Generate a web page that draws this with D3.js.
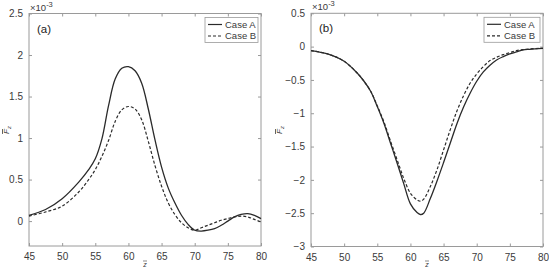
<!DOCTYPE html>
<html><head><meta charset="utf-8">
<script src="https://cdn.jsdelivr.net/npm/d3@7"></script>
<style>body{margin:0;background:#fff;}text{font-family:"Liberation Sans",Arial,sans-serif;}</style>
</head><body>
<svg id="c" width="549" height="269"></svg>
<script>
// Panel (a)
const zA = [45,47.5,50,52.5,54,55,56,57,58,59,60,61,62,63,64,65,66,67,68,69,70,71,72,73,74,75,76,77,78,79,80];
const caseA_a = [0.07,0.14,0.27,0.47,0.62,0.75,0.99,1.39,1.71,1.84,1.86,1.81,1.66,1.35,0.98,0.65,0.40,0.22,0.07,-0.04,-0.11,-0.12,-0.11,-0.09,-0.05,0.0,0.05,0.08,0.09,0.07,0.03];
const caseB_a = [0.06,0.11,0.18,0.35,0.50,0.62,0.78,0.97,1.20,1.34,1.38,1.35,1.22,0.96,0.67,0.42,0.22,0.08,-0.02,-0.08,-0.11,-0.08,-0.05,-0.02,0.01,0.03,0.05,0.06,0.05,0.02,-0.01];
// Panel (b)
const zB = [45,47.5,50,52,53,54,55,56,57,58,59,60,61,61.5,62,63,64,65,66,67,68,69,70,71,72,73,74,75,76,77,78,80];
const caseA_b = [-0.06,-0.11,-0.22,-0.40,-0.52,-0.67,-0.90,-1.15,-1.45,-1.75,-2.06,-2.36,-2.49,-2.52,-2.50,-2.28,-2.02,-1.74,-1.45,-1.16,-0.91,-0.70,-0.52,-0.38,-0.28,-0.20,-0.15,-0.11,-0.08,-0.05,-0.04,-0.025];
const caseB_b = [-0.06,-0.11,-0.22,-0.40,-0.52,-0.67,-0.89,-1.13,-1.42,-1.70,-1.98,-2.20,-2.30,-2.32,-2.29,-2.10,-1.85,-1.55,-1.25,-0.97,-0.74,-0.55,-0.41,-0.30,-0.21,-0.16,-0.12,-0.09,-0.06,-0.045,-0.035,-0.025];
const xTicks = [45,50,55,60,65,70,75,80];
const yTicks_a = [0,0.5,1,1.5,2,2.5];
const yTicks_b = [-3,-2.5,-2,-1.5,-1,-0.5,0,0.5];
const seriesNames = ["Case A","Case B"];

const svg = d3.select("#c");

function panel(o){
  const g = svg.append("g");
  const x = d3.scaleLinear().domain([45,80]).range([o.x0,o.x1]);
  const y = d3.scaleLinear().domain(o.ydom).range([o.yb,o.yt]);
  const axc = "#9a9a9a", txc = "#3a3a3a";
  g.append("rect").attr("x",o.x0).attr("y",o.yt).attr("width",o.x1-o.x0).attr("height",o.yb-o.yt)
    .attr("fill","none").attr("stroke",axc).attr("stroke-width",1);
  const fmt = d => d3.format("")(d);
  g.append("g").attr("transform",`translate(0,${o.yb})`)
    .call(d3.axisBottom(x).tickValues(xTicks).tickSizeInner(-3).tickSizeOuter(0).tickPadding(7).tickFormat(fmt));
  g.append("g").attr("transform",`translate(0,${o.yt})`)
    .call(d3.axisTop(x).tickValues(xTicks).tickSizeInner(-3).tickSizeOuter(0).tickFormat(""));
  g.append("g").attr("transform",`translate(${o.x0},0)`)
    .call(d3.axisLeft(y).tickValues(o.yticks).tickSizeInner(-3).tickSizeOuter(0).tickPadding(6).tickFormat(fmt));
  g.append("g").attr("transform",`translate(${o.x1},0)`)
    .call(d3.axisRight(y).tickValues(o.yticks).tickSizeInner(-3).tickSizeOuter(0).tickFormat(""));
  g.selectAll(".domain").remove();
  g.selectAll(".tick line").attr("stroke",axc);
  g.selectAll(".tick text").attr("fill",txc).attr("font-size",10).attr("font-family","Liberation Sans, Arial, sans-serif");
  const line = d3.line().x(d=>x(d[0])).y(d=>y(d[1])).curve(d3.curveCatmullRom.alpha(0.5));
  g.append("path").datum(o.z.map((z,i)=>[z,o.a[i]])).attr("d",line)
    .attr("fill","none").attr("stroke","#2a2a2a").attr("stroke-width",1.3);
  g.append("path").datum(o.z.map((z,i)=>[z,o.b[i]])).attr("d",line)
    .attr("fill","none").attr("stroke","#2a2a2a").attr("stroke-width",1.2).attr("stroke-dasharray","3,2");
  const ex = g.append("text").attr("x",o.x0+1).attr("y",o.yt-3).attr("font-size",9.5).attr("fill",txc);
  ex.append("tspan").text("×10");
  ex.append("tspan").attr("dy",-4).attr("font-size",7.5).text("-3");
  g.append("text").attr("x",o.x0+8).attr("y",o.yt+19).attr("font-size",11.5).attr("fill","#222").text(o.label);
  const lw = o.legW, lx = o.x1-3-lw, ly = o.yt+4;
  g.append("rect").attr("x",lx).attr("y",ly).attr("width",lw).attr("height",25)
    .attr("fill","#fff").attr("stroke",axc).attr("stroke-width",0.8);
  seriesNames.forEach((n,i)=>{
    const yy = ly+7+i*11.5;
    g.append("line").attr("x1",lx+3).attr("x2",lx+17).attr("y1",yy).attr("y2",yy)
      .attr("stroke","#2a2a2a").attr("stroke-width",1.2).attr("stroke-dasharray",i?"3,2":null);
    g.append("text").attr("x",lx+20).attr("y",yy+3.3).attr("font-size",9.5).attr("fill",txc).text(n);
  });
  const xl = g.append("text").attr("x",(o.x0+o.x1)/2).attr("y",267).attr("text-anchor","middle")
    .attr("font-size",7).attr("font-style","italic").attr("fill",txc);
  xl.append("tspan").text("z");
  g.append("line").attr("x1",(o.x0+o.x1)/2-2).attr("x2",(o.x0+o.x1)/2+2).attr("y1",261).attr("y2",261).attr("stroke",txc).attr("stroke-width",0.6);
  const yl = g.append("text").attr("transform",`translate(${o.ylx},130) rotate(-90)`).attr("text-anchor","middle")
    .attr("font-size",8).attr("font-style","italic").attr("fill",txc);
  yl.append("tspan").attr("text-decoration","overline").text("F");
  yl.append("tspan").attr("dy",2).attr("font-size",6).text("z");
}

panel({x0:29,x1:261,yt:13.5,yb:246,ydom:[-0.3,2.5],yticks:yTicks_a,z:zA,a:caseA_a,b:caseB_a,label:"(a)",legW:53,ylx:9});
panel({x0:311,x1:543,yt:13.3,yb:246.5,ydom:[-3,0.5],yticks:yTicks_b,z:zB,a:caseA_b,b:caseB_b,label:"(b)",legW:56,ylx:282});
</script>
</body></html>
